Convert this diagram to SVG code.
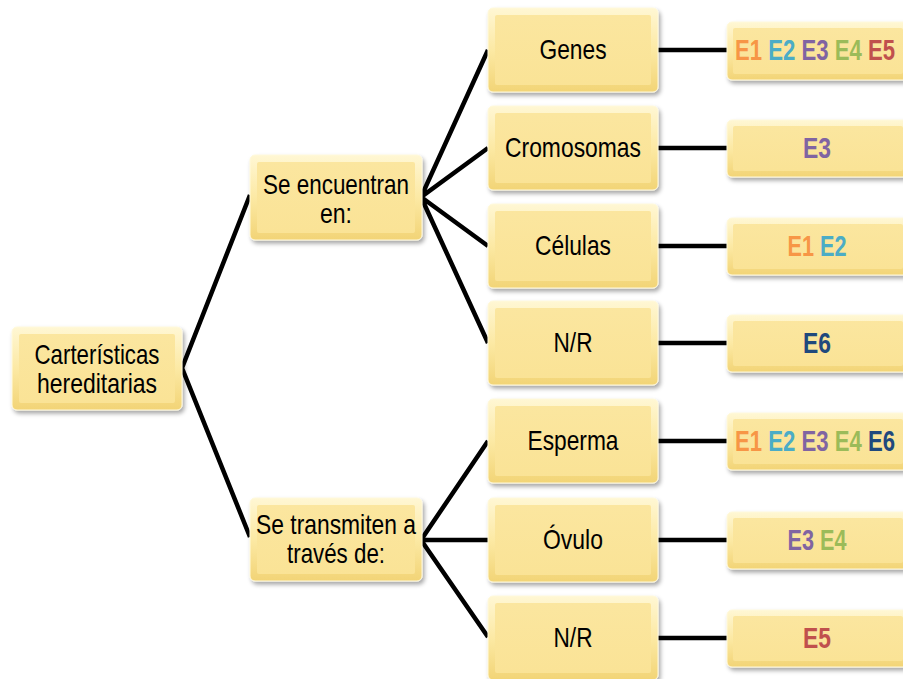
<svg xmlns="http://www.w3.org/2000/svg" width="903" height="679" viewBox="0 0 903 679">
<defs>
<linearGradient id="gOuter" x1="0" y1="0" x2="0" y2="1">
<stop offset="0" stop-color="#FFF7D4"/>
<stop offset="0.5" stop-color="#FCE9A4"/>
<stop offset="1" stop-color="#F2D476"/>
</linearGradient>
<linearGradient id="gInner" x1="0" y1="0" x2="0" y2="1">
<stop offset="0" stop-color="#FBE69F"/>
<stop offset="1" stop-color="#FAE396"/>
</linearGradient>
<filter id="sh" x="-10%" y="-10%" width="130%" height="140%">
<feDropShadow dx="2" dy="3" stdDeviation="2" flood-color="#000" flood-opacity="0.35"/>
</filter>
</defs>
<style>
.ob{fill:url(#gOuter);stroke:#FFF9DC;stroke-width:1;filter:url(#sh)}
.ib{fill:url(#gInner)}
.t{font-family:"Liberation Sans Narrow","Liberation Sans",Arial,sans-serif;font-size:28px;fill:#000;text-anchor:middle}
.e{font-family:"Liberation Sans Narrow","Liberation Sans",Arial,sans-serif;font-size:29px;font-weight:bold;text-anchor:middle}
.c{stroke:#000;stroke-width:4.5;fill:none;stroke-linejoin:miter}
.e1{fill:#F79646}.e2{fill:#4BACC6}.e3{fill:#8064A2}.e4{fill:#9BBB59}.e5{fill:#C0504D}.e6{fill:#1F497D}
</style>
<rect width="903" height="679" fill="#fff"/>
<g id="connectors">
<path class="c" d="M250,195 L182,368 L250,537"/>
<path class="c" d="M488,50 L421,197 L488,148 M421,197 L488,246 M421,197 L488,343"/>
<path class="c" d="M488,441 L421,540 L488,637 M421,540 L488,540"/>
<path class="c" d="M658,50H727 M658,148H727 M658,246H727 M658,343H727 M658,441H727 M658,540H727 M658,638H727"/>
</g>
<g id="n-root">
<rect class="ob" x="12" y="327" width="170" height="83" rx="5"/>
<rect class="ib" x="19" y="334" width="156" height="69" rx="2"/>
<text class="t" x="97" y="364" textLength="125" lengthAdjust="spacingAndGlyphs">Carterísticas</text>
<text class="t" x="97" y="393" textLength="120" lengthAdjust="spacingAndGlyphs">hereditarias</text>
</g>
<g id="n-encuentran">
<rect class="ob" x="250" y="155" width="172" height="85" rx="5"/>
<rect class="ib" x="257" y="162" width="158" height="71" rx="2"/>
<text class="t" x="336" y="194" textLength="146" lengthAdjust="spacingAndGlyphs">Se encuentran</text>
<text class="t" x="336" y="223" textLength="32" lengthAdjust="spacingAndGlyphs">en:</text>
</g>
<g id="n-transmiten">
<rect class="ob" x="250" y="498" width="172" height="83" rx="5"/>
<rect class="ib" x="257" y="505" width="158" height="69" rx="2"/>
<text class="t" x="336" y="534" textLength="160" lengthAdjust="spacingAndGlyphs">Se transmiten a</text>
<text class="t" x="336" y="563" textLength="98" lengthAdjust="spacingAndGlyphs">través de:</text>
</g>
<g id="n-genes">
<rect class="ob" x="488" y="8" width="170" height="84" rx="5"/>
<rect class="ib" x="495" y="15" width="156" height="70" rx="2"/>
<text class="t" x="573" y="59" textLength="67" lengthAdjust="spacingAndGlyphs">Genes</text>
</g>
<g id="n-cromosomas">
<rect class="ob" x="488" y="106" width="170" height="84" rx="5"/>
<rect class="ib" x="495" y="113" width="156" height="70" rx="2"/>
<text class="t" x="573" y="157" textLength="136" lengthAdjust="spacingAndGlyphs">Cromosomas</text>
</g>
<g id="n-celulas">
<rect class="ob" x="488" y="204" width="170" height="84" rx="5"/>
<rect class="ib" x="495" y="211" width="156" height="70" rx="2"/>
<text class="t" x="573" y="255" textLength="76" lengthAdjust="spacingAndGlyphs">Células</text>
</g>
<g id="n-nr1">
<rect class="ob" x="488" y="301" width="170" height="84" rx="5"/>
<rect class="ib" x="495" y="308" width="156" height="70" rx="2"/>
<text class="t" x="573" y="352" textLength="39" lengthAdjust="spacingAndGlyphs">N/R</text>
</g>
<g id="n-esperma">
<rect class="ob" x="488" y="399" width="170" height="84" rx="5"/>
<rect class="ib" x="495" y="406" width="156" height="70" rx="2"/>
<text class="t" x="573" y="450" textLength="91" lengthAdjust="spacingAndGlyphs">Esperma</text>
</g>
<g id="n-ovulo">
<rect class="ob" x="488" y="498" width="170" height="84" rx="5"/>
<rect class="ib" x="495" y="505" width="156" height="70" rx="2"/>
<text class="t" x="573" y="549" textLength="60" lengthAdjust="spacingAndGlyphs">Óvulo</text>
</g>
<g id="n-nr2">
<rect class="ob" x="488" y="596" width="170" height="84" rx="5"/>
<rect class="ib" x="495" y="603" width="156" height="70" rx="2"/>
<text class="t" x="573" y="647" textLength="39" lengthAdjust="spacingAndGlyphs">N/R</text>
</g>
<g id="r-genes">
<rect class="ob" x="727" y="22" width="182" height="58" rx="5"/>
<rect class="ib" x="733" y="28" width="170" height="46" rx="2"/>
<text class="e" x="815" y="60" textLength="160" lengthAdjust="spacingAndGlyphs"><tspan class="e1">E1</tspan> <tspan class="e2">E2</tspan> <tspan class="e3">E3</tspan> <tspan class="e4">E4</tspan> <tspan class="e5">E5</tspan></text>
</g>
<g id="r-cromosomas">
<rect class="ob" x="727" y="120" width="182" height="57" rx="5"/>
<rect class="ib" x="733" y="126" width="170" height="45" rx="2"/>
<text class="e e3" x="817" y="158" textLength="28" lengthAdjust="spacingAndGlyphs">E3</text>
</g>
<g id="r-celulas">
<rect class="ob" x="727" y="218" width="182" height="57" rx="5"/>
<rect class="ib" x="733" y="224" width="170" height="45" rx="2"/>
<text class="e" x="817" y="256" textLength="59" lengthAdjust="spacingAndGlyphs"><tspan class="e1">E1</tspan> <tspan class="e2">E2</tspan></text>
</g>
<g id="r-nr1">
<rect class="ob" x="727" y="315" width="182" height="57" rx="5"/>
<rect class="ib" x="733" y="321" width="170" height="45" rx="2"/>
<text class="e e6" x="817" y="353" textLength="28" lengthAdjust="spacingAndGlyphs">E6</text>
</g>
<g id="r-esperma">
<rect class="ob" x="727" y="413" width="182" height="57" rx="5"/>
<rect class="ib" x="733" y="419" width="170" height="45" rx="2"/>
<text class="e" x="815" y="451" textLength="160" lengthAdjust="spacingAndGlyphs"><tspan class="e1">E1</tspan> <tspan class="e2">E2</tspan> <tspan class="e3">E3</tspan> <tspan class="e4">E4</tspan> <tspan class="e6">E6</tspan></text>
</g>
<g id="r-ovulo">
<rect class="ob" x="727" y="512" width="182" height="57" rx="5"/>
<rect class="ib" x="733" y="518" width="170" height="45" rx="2"/>
<text class="e" x="817" y="550" textLength="59" lengthAdjust="spacingAndGlyphs"><tspan class="e3">E3</tspan> <tspan class="e4">E4</tspan></text>
</g>
<g id="r-nr2">
<rect class="ob" x="727" y="610" width="182" height="57" rx="5"/>
<rect class="ib" x="733" y="616" width="170" height="45" rx="2"/>
<text class="e e5" x="817" y="648" textLength="28" lengthAdjust="spacingAndGlyphs">E5</text>
</g>
</svg>
